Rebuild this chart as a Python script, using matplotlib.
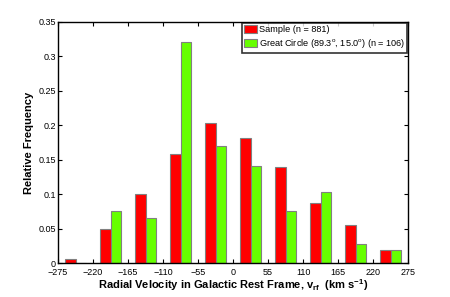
import numpy as np
import matplotlib
matplotlib.use('Agg')
from matplotlib import pyplot as plt

plt.rcParams['font.family'] = ['Liberation Sans', 'DejaVu Sans']
plt.rcParams['mathtext.fontset'] = 'custom'
plt.rcParams['mathtext.rm'] = 'Liberation Sans'
plt.rcParams['mathtext.bf'] = 'Liberation Sans:bold'

# bin centres (km/s), bin width 55
centers = [-247.5, -192.5, -137.5, -82.5, -27.5, 27.5, 82.5, 137.5, 192.5, 247.5]
sample = [0.0057, 0.0499, 0.0999, 0.1578, 0.2032, 0.1816, 0.1396, 0.0874, 0.0556, 0.0193]
great_circle = [0.0, 0.0755, 0.0660, 0.3208, 0.1698, 0.1415, 0.0755, 0.1038, 0.0283, 0.0189]
xticks = [-275, -220, -165, -110, -55, 0, 55, 110, 165, 220, 275]
yticks = [0, 0.05, 0.1, 0.15, 0.2, 0.25, 0.3, 0.35]

fig = plt.figure(figsize=(4.5, 2.97), dpi=100)
ax = fig.add_axes([0.129, 0.114, 0.778, 0.812])

w = 16.5
c = np.array(centers)
ax.bar(c - w/2, sample, width=w, color='#ff0000', edgecolor='#808080', linewidth=0.8,
       label='Sample (n = 881)')
ax.bar(c + w/2, great_circle, width=w, color='#66ff00', edgecolor='#808080', linewidth=0.8,
       label=r'Great Circle (89.3$^{\rm o}$, 15.0$^{\rm o}$) (n = 106)')

ax.set_xlim(-275, 275)
ax.set_ylim(0, 0.35)
ax.set_xticks(xticks)
ax.set_xticklabels(['\u2212%d' % -t if t < 0 else '%d' % t for t in xticks])
ax.set_yticks(yticks)
ax.set_yticklabels(['0', '0.05', '0.1', '0.15', '0.2', '0.25', '0.3', '0.35'])
ax.tick_params(direction='in', top=True, right=True, labelsize=6.5, length=3, width=0.8, pad=1.5)
ax.tick_params(axis='x', pad=3.5)
for s in ax.spines.values():
    s.set_linewidth(1.0)

ax.set_xlabel(r'Radial Velocity in Galactic Rest Frame, v$_{\mathbf{rf}}$  (km s$^{\mathbf{-1}}$)',
              fontsize=8, fontweight='bold', labelpad=0)
ax.set_ylabel('Relative Frequency', fontsize=8, fontweight='bold', labelpad=3)

leg = ax.legend(loc='upper right', fontsize=6.6, frameon=True, fancybox=False,
                borderaxespad=0.1, handlelength=1.4, handleheight=0.9, handletextpad=0.15,
                borderpad=0.25, labelspacing=0.35)
leg.get_frame().set_edgecolor('black')
leg.get_frame().set_linewidth(1.2)

fig.savefig('out.png', dpi=100)
